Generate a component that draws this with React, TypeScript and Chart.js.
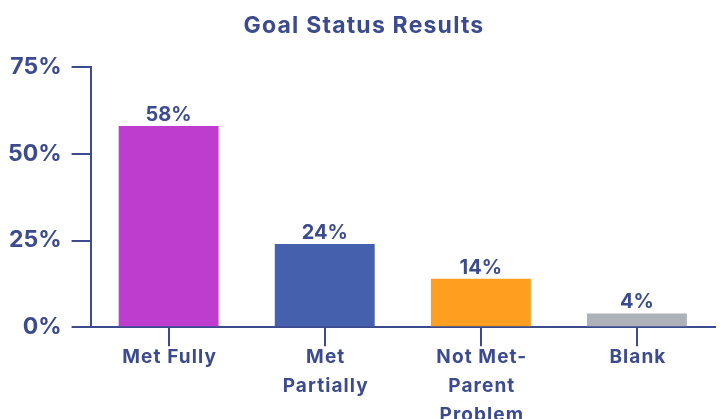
import React, { useEffect, useRef } from "react";
import { Chart, registerables } from "chart.js";

Chart.register(...registerables);

const categories: string[][] = [
  ["Met Fully"],
  ["Met", "Partially"],
  ["Not Met-", "Parent", "Problem"],
  ["Blank"],
];
const values: number[] = [58, 24, 14, 4];
const barColors: string[] = ["#BE3DCE", "#4560AC", "#FF9F1F", "#AEB1B7"];
const yTicks: number[] = [0, 25, 50, 75];
const title = "Goal Status Results";

const INK = "#3B4B8E";
const FONT = "Inter, Roboto, 'DejaVu Sans', sans-serif";

const textDecor = {
  id: "textDecor",
  afterDraw(chart: any) {
    const ctx = chart.ctx;
    const area = chart.chartArea;
    const meta = chart.getDatasetMeta(0);
    const xScale = chart.scales.x;
    ctx.save();
    ctx.fillStyle = INK;
    ctx.textAlign = "center";
    ctx.textBaseline = "alphabetic";

    // value labels
    ctx.font = `bold 20px ${FONT}`;
    (ctx as any).letterSpacing = "0px";
    meta.data.forEach((bar: any, i: number) => {
      ctx.fillText(`${values[i]}%`, bar.x, bar.y - 5);
    });

    // title
    ctx.font = `bold 23px ${FONT}`;
    (ctx as any).letterSpacing = "1.2px";
    ctx.fillText(title, chart.width / 2 + 3, 33);

    // category labels
    ctx.font = `bold 19px ${FONT}`;
    (ctx as any).letterSpacing = "1.1px";
    categories.forEach((lines, i) => {
      const x = xScale.getPixelForTick(i) + 1;
      lines.forEach((line, j) => {
        ctx.fillText(line, x, area.bottom + 36 + j * 29);
      });
    });
    ctx.restore();
  },
};

export default function App() {
  const ref = useRef<HTMLCanvasElement | null>(null);
  useEffect(() => {
    if (!ref.current) return;
    const chart = new Chart(ref.current, {
      type: "bar",
      data: {
        labels: categories,
        datasets: [
          {
            data: values,
            backgroundColor: barColors,
            barPercentage: 0.8,
            categoryPercentage: 0.8,
          },
        ],
      },
      options: {
        responsive: false,
        animation: false,
        devicePixelRatio: 1,
        layout: { padding: { left: -2, right: 7, top: 67, bottom: 0 } },
        plugins: {
          legend: { display: false },
          tooltip: { enabled: false },
          title: { display: false },
        },
        scales: {
          x: {
            grid: {
              display: true,
              drawOnChartArea: false,
              drawTicks: true,
              tickLength: 19,
              offset: false,
              color: INK,
              lineWidth: 2,
            },
            border: { display: true, color: INK, width: 2 },
            ticks: {
              color: "rgba(0,0,0,0)",
              padding: 1,
              maxRotation: 0,
              autoSkip: false,
              font: { family: FONT, size: 19, weight: "bold", lineHeight: 1.45 },
            },
          },
          y: {
            min: 0,
            max: 75,
            afterBuildTicks: (axis: any) => {
              axis.ticks = yTicks.map((v) => ({ value: v }));
            },
            grid: {
              display: true,
              drawOnChartArea: false,
              drawTicks: true,
              tickLength: 19,
              color: INK,
              lineWidth: 2,
            },
            border: { display: true, color: INK, width: 2 },
            ticks: {
              color: INK,
              padding: 10,
              font: { family: FONT, size: 23, weight: "bold" },
              callback: (v: any) => `${v}%`,
            },
          },
        },
      },
      plugins: [textDecor],
    });
    return () => chart.destroy();
  }, []);
  return (
    <div style={{ position: "absolute", left: 0, top: 0, width: 722, height: 431 }}>
      <canvas ref={ref} width={722} height={431} />
    </div>
  );
}
